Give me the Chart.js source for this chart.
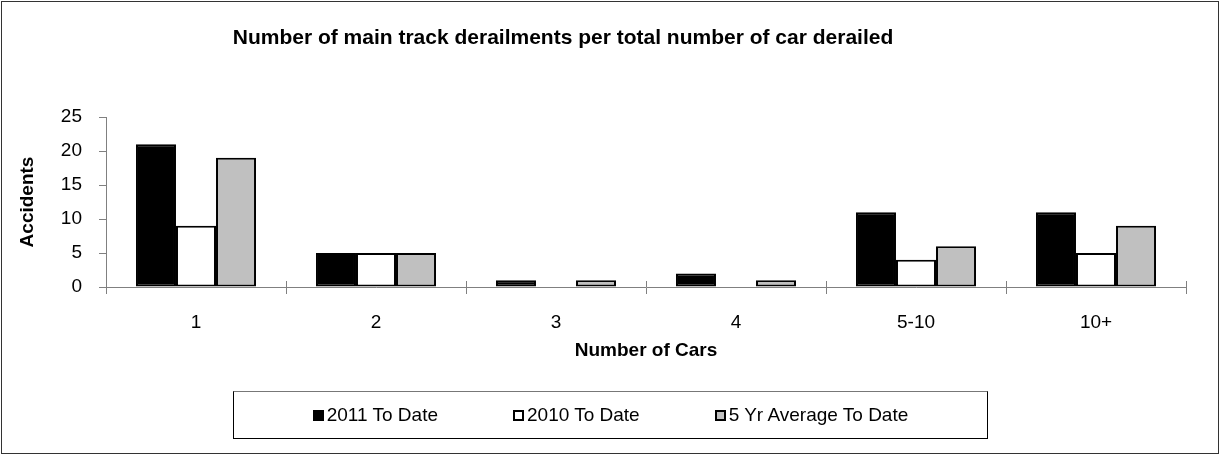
<!DOCTYPE html>
<html>
<head>
<meta charset="utf-8">
<title>Main track derailments</title>
<script src="https://cdn.jsdelivr.net/npm/chart.js@4.4.0/dist/chart.umd.min.js"></script>
<style>
    body { margin: 0; background: #fff; }
    #wrap { position: relative; width: 1228px; height: 455px; }
    #legend {
        position: absolute; left: 233px; top: 391px; width: 755px; height: 48px;
        box-sizing: border-box; border: 1px solid #000; border-top-color: #777;
        display: flex; justify-content: center; align-items: center; gap: 75px;
        font: 19px "Liberation Sans", Arial, sans-serif; color: #000;
    }
    .item { display: flex; align-items: center; white-space: nowrap; }
    .swatch { width: 11px; height: 11px; box-sizing: border-box; border: 2px solid #000; margin-right: 3px; }
</style>
</head>
<body>
<div id="wrap">
    <canvas id="chart" width="1228" height="455"></canvas>
    <div id="legend"></div>
</div>
<script>
// Chart data
const categories = ['1', '2', '3', '4', '5-10', '10+'];
const values2011 = [21, 5, 1, 2, 11, 11];
const values2010 = [9, 5, 0, 0, 4, 5];
const values5yr = [19, 5, 1, 1, 6, 9];
const seriesNames = ['2011 To Date', '2010 To Date', '5 Yr Average To Date'];
const seriesColors = ['#000000', '#ffffff', '#c0c0c0'];
const yMin = 0;
const yMax = 25;
const yStep = 5;

const chartTitle = 'Number of main track derailments per total number of car derailed';
const FONT = '"Liberation Sans", Arial, sans-serif';

// White background, outer frame, x tick marks across the axis, chart title
const framePlugin = {
    id: 'frame',
    beforeDraw(chart) {
        const ctx = chart.ctx;
        ctx.save();
        ctx.fillStyle = '#fff';
        ctx.fillRect(0, 0, chart.width, chart.height);
        ctx.restore();
    },
    afterDraw(chart) {
        const ctx = chart.ctx;
        const x = chart.scales.x;
        ctx.save();
        // small tick stubs above the axis, between categories
        ctx.strokeStyle = '#808080';
        ctx.lineWidth = 1;
        ctx.beginPath();
        for (let i = 0; i <= categories.length; i++) {
            const px = Math.round(x.left + (x.right - x.left) * i / categories.length) + 0.5;
            ctx.moveTo(px, x.top - 6);
            ctx.lineTo(px, x.top);
        }
        ctx.stroke();
        ctx.strokeStyle = '#333';
        ctx.strokeRect(1.5, 1.5, 1217, 452);
        ctx.fillStyle = '#000';
        ctx.font = 'bold 21px ' + FONT;
        ctx.textAlign = 'center';
        ctx.textBaseline = 'middle';
        ctx.fillText(chartTitle, 563, 38);
        ctx.restore();
    }
};

const seriesValues = [values2011, values2010, values5yr];
const datasets = seriesNames.map((name, i) => ({
    label: name,
    data: seriesValues[i],
    backgroundColor: seriesColors[i],
    borderColor: '#000',
    borderWidth: 2,
    borderSkipped: false,
    categoryPercentage: 0.667,
    barPercentage: 1.0
}));

new Chart(document.getElementById('chart'), {
    type: 'bar',
    data: { labels: categories, datasets: datasets },
    plugins: [framePlugin],
    options: {
        responsive: false,
        animation: false,
        layout: { padding: { top: 117, left: 0, right: 42, bottom: 0 } },
        plugins: {
            legend: { display: false },
            title: { display: false },
            tooltip: { enabled: false }
        },
        scales: {
            x: {
                grid: { offset: true, drawOnChartArea: false, drawTicks: true, tickLength: 7, color: '#808080' },
                border: { display: true, color: '#808080', width: 1 },
                ticks: { color: '#000', font: { family: FONT, size: 19 }, padding: 17 },
                title: {
                    display: true, text: 'Number of Cars', color: '#000',
                    font: { family: FONT, size: 19, weight: 'bold' },
                    padding: { top: 0, bottom: 93 }
                },
                afterFit(scale) { scale.height = 168; }
            },
            y: {
                min: yMin,
                max: yMax,
                grid: { drawOnChartArea: false, drawTicks: true, tickLength: 7, color: '#808080' },
                border: { display: true, color: '#808080', width: 1 },
                ticks: { stepSize: yStep, color: '#000', font: { family: FONT, size: 19 }, padding: 17 },
                title: {
                    display: true, text: 'Accidents', color: '#000',
                    font: { family: FONT, size: 19, weight: 'bold' },
                    padding: { top: 16, bottom: 0 }
                },
                afterFit(scale) { scale.width = 106; }
            }
        }
    }
});

// Legend in a bordered box under the chart
const legendEl = document.getElementById('legend');
seriesNames.forEach((name, i) => {
    const item = document.createElement('div');
    item.className = 'item';
    const sw = document.createElement('span');
    sw.className = 'swatch';
    sw.style.background = seriesColors[i];
    const label = document.createElement('span');
    label.textContent = name;
    item.appendChild(sw);
    item.appendChild(label);
    legendEl.appendChild(item);
});
</script>
</body>
</html>
